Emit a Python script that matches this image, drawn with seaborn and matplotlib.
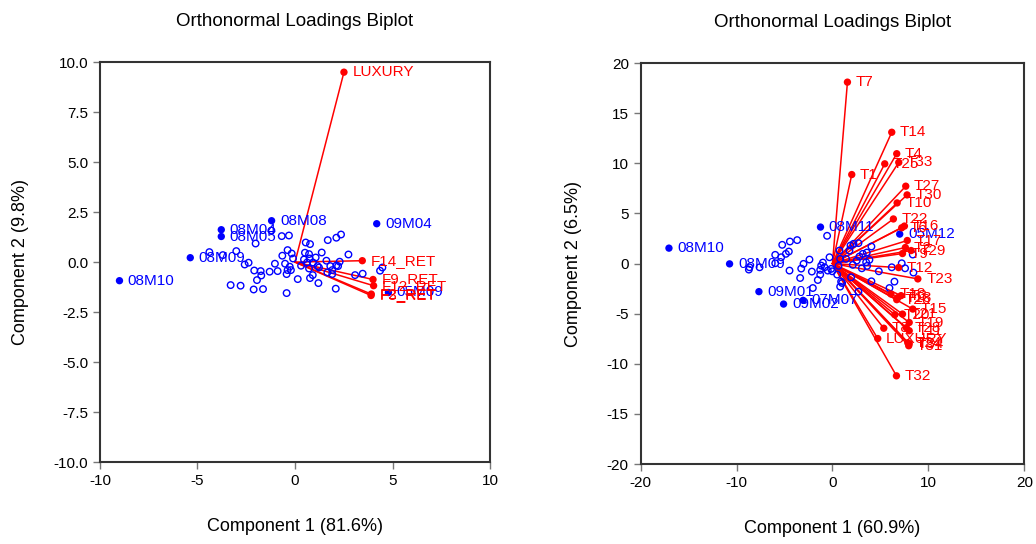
import numpy as np
import matplotlib
matplotlib.use("Agg")
import matplotlib.pyplot as plt
import seaborn as sns

# ---- left biplot (Component 1 81.6%, Component 2 9.8%) ----
left_obs_x = [-4.39, -3.01, -2.02, -2.58, -2.38, -2.09, -1.76, -1.73, -1.95, -3.30, -2.79, -2.12,
              -1.64, -1.30, -1.03, -0.89, -0.68, -0.31, -0.65, -0.51, -0.38, -0.17, -0.10, -0.27,
              -0.38, -0.21, -0.43, -0.43, 0.14, 0.31, 0.55, 0.77, 0.51, 0.72, 0.46, 0.62, 0.75,
              1.06, 0.92, 1.16, 1.23, 0.72, 0.91, 0.77, 1.20, 1.37, 1.61, 1.68, 2.12, 2.36, 1.81,
              1.91, 1.91, 1.66, 2.12, 2.29, 2.21, 2.09, 2.74, 3.08, 3.47, 4.36, 4.48, -1.21, -3.70]
left_obs_y = [0.50, 0.55, 0.93, -0.12, -0.03, -0.42, -0.45, -0.67, -0.90, -1.15, -1.18, -1.37,
              -1.35, -0.48, -0.08, -0.45, 1.30, 1.33, 0.32, -0.08, 0.60, 0.43, 0.18, -0.23,
              -0.40, -0.40, -0.60, -1.55, -0.85, -0.18, 0.98, 0.90, 0.47, 0.40, 0.13, -0.02, 0.18,
              0.23, -0.02, -0.20, -0.27, -0.32, -0.65, -0.80, -1.05, 0.48, 0.07, 1.10, 1.22, 1.38, -0.20,
              -0.40, -0.60, -0.52, -0.17, 0.02, -0.20, -1.33, 0.38, -0.65, -0.58, -0.43, -0.27, 1.58, 0.35]
left_lab_names = ["08M10", "08M09", "08M04", "08M05", "08M08", "09M04", "05M09"]
left_lab_x = [-9.0, -5.37, -3.78, -3.78, -1.20, 4.19, 4.79]
left_lab_y = [-0.93, 0.22, 1.62, 1.28, 2.07, 1.92, -1.52]
left_vec_names = ["LUXURY", "F14_RET", "F9_RET", "F12_RET", "F2_RET", "F3_RET"]
left_vec_x = [2.51, 3.45, 4.00, 4.03, 3.91, 3.90]
left_vec_y = [9.50, 0.07, -0.87, -1.18, -1.60, -1.67]

# ---- right biplot (Component 1 60.9%, Component 2 6.5%) ----
right_obs_x = [-5.24, -4.44, -3.68, -5.97, -5.35, -4.86, -4.55, -5.97, -8.72, -8.65, -7.60, -4.48,
               -3.26, -3.02, -2.40, -3.37, -2.15, -1.53, -1.28, -1.28, -1.00, -0.83, -1.18, -0.49,
               -0.31, -0.14, -0.03, 0.49, 0.63, 0.73, 0.80, 1.42, 1.77, 1.88, 2.19, 2.71, 2.12,
               2.53, 2.81, 3.16, 3.58, 3.51, 3.85, 3.06, 3.61, 4.06, 4.83, 6.18, 7.22, 7.57, 8.44,
               8.37, 1.94, 0.90, 0.80, -2.05, 2.71, 4.06, 5.94, 6.46, -0.56, 1.00]
right_obs_y = [1.87, 2.20, 2.34, 0.87, 0.63, 0.97, 1.20, 0.03, -0.60, -0.37, -0.37, -0.70,
               -0.50, -0.03, 0.40, -1.44, -0.80, -1.64, -1.10, -0.63, 0.10, -0.37, -0.20, -0.70,
               0.63, -0.53, -0.77, -1.10, -0.23, 1.30, 0.47, 0.47, 1.30, 1.80, 1.97, 2.04, -0.13,
               0.30, 0.70, 0.97, 1.10, 0.13, 0.37, -0.47, -0.23, 1.70, -0.77, -0.37, 0.03, -0.47, -0.90,
               0.90, -1.37, -1.80, -2.30, -2.44, -2.80, -1.77, -2.44, -1.80, 2.77, -1.94]
right_lab_names = ["08M10", "08M09", "09M01", "09M02", "07M07", "08M11", "05M12"]
right_lab_x = [-17.05, -10.73, -7.67, -5.10, -3.06, -1.25, 7.01]
right_lab_y = [1.54, -0.03, -2.80, -4.04, -3.67, 3.64, 2.94]
right_vec_names = ["T7", "T14", "T4", "T25", "T33", "T1", "T27", "T30", "T10", "T22", "T6", "T16",
                   "T17", "T2", "T29", "T9", "T12", "T23", "T18", "T13", "T3", "T26", "T21", "T15",
                   "T20", "T19", "T11", "T28", "T8", "LUXURY", "T24", "T34", "T31", "T32"]
right_vec_x = [1.56, 6.18, 6.70, 5.45, 6.91, 2.01, 7.64, 7.78, 6.74, 6.35, 7.22, 7.50,
               7.80, 7.60, 8.20, 7.30, 6.90, 8.90, 6.10, 6.80, 7.15, 6.70, 7.30, 8.37,
               6.50, 8.00, 8.00, 7.70, 5.35, 4.72, 7.85, 8.00, 7.95, 6.67]
right_vec_y = [18.10, 13.10, 10.96, 9.95, 10.09, 8.88, 7.72, 6.85, 6.05, 4.45, 3.57, 3.74,
               2.30, 1.60, 1.30, 1.00, -0.40, -1.53, -3.04, -3.40, -3.20, -3.60, -5.04, -4.54,
               -5.10, -5.88, -6.70, -6.40, -6.45, -7.48, -7.90, -8.00, -8.20, -11.20]

sns.set_style("ticks")
plt.rcParams['font.family'] = ['Liberation Sans', 'DejaVu Sans']
plt.rcParams['axes.unicode_minus'] = False
plt.rcParams['text.color'] = 'black'
plt.rcParams['axes.labelcolor'] = 'black'
plt.rcParams['xtick.labelcolor'] = 'black'
plt.rcParams['ytick.labelcolor'] = 'black'

fig = plt.figure(figsize=(10.36, 5.44), dpi=100)
ax1 = fig.add_axes([0.0965, 0.1507, 0.3765, 0.735])
ax2 = fig.add_axes([0.6184, 0.147, 0.3703, 0.737])


def biplot(ax, obs_x, obs_y, lab_names, lab_x, lab_y, vec_names, vec_x, vec_y):
    for vx, vy in zip(vec_x, vec_y):
        ax.plot([0, vx], [0, vy], color='red', lw=1.1, zorder=2)
    sns.scatterplot(x=obs_x, y=obs_y, ax=ax, facecolors='none', edgecolor='blue',
                    s=22, linewidth=1.0, zorder=3)
    sns.scatterplot(x=lab_x, y=lab_y, ax=ax, color='blue', edgecolor='none', s=28, zorder=3)
    sns.scatterplot(x=vec_x, y=vec_y, ax=ax, color='red', edgecolor='none', s=28, zorder=3)
    for n, px, py in zip(lab_names, lab_x, lab_y):
        ax.annotate(n, (px, py), xytext=(6, 0), textcoords='offset points',
                    va='center', ha='left', color='blue', fontsize=11)
    for n, px, py in zip(vec_names, vec_x, vec_y):
        ax.annotate(n, (px, py), xytext=(6, 0), textcoords='offset points',
                    va='center', ha='left', color='red', fontsize=11)
    ax.set_title('Orthonormal Loadings Biplot', fontsize=13.5, pad=26)
    for s in ax.spines.values():
        s.set_visible(True)
        s.set_color('#333333')
        s.set_linewidth(1.5)
    ax.tick_params(direction='out', length=5, width=1, color='#777777', labelsize=11)


biplot(ax1, left_obs_x, left_obs_y, left_lab_names, left_lab_x, left_lab_y,
       left_vec_names, left_vec_x, left_vec_y)
ax1.set_xlim(-10, 10)
ax1.set_ylim(-10, 10)
ax1.set_xticks([-10, -5, 0, 5, 10])
ax1.set_yticks(np.arange(-10, 10.1, 2.5))
ax1.set_yticklabels([f"{v:.1f}" for v in np.arange(-10, 10.1, 2.5)])
ax1.set_xlabel('Component 1 (81.6%)', fontsize=13, labelpad=22)
ax1.set_ylabel('Component 2 (9.8%)', fontsize=13, labelpad=18)

biplot(ax2, right_obs_x, right_obs_y, right_lab_names, right_lab_x, right_lab_y,
       right_vec_names, right_vec_x, right_vec_y)
ax2.set_xlim(-20, 20)
ax2.set_ylim(-20, 20)
ax2.set_xticks([-20, -10, 0, 10, 20])
ax2.set_yticks(np.arange(-20, 21, 5))
ax2.set_xlabel('Component 1 (60.9%)', fontsize=13, labelpad=22)
ax2.set_ylabel('Component 2 (6.5%)', fontsize=13, labelpad=18)

fig.savefig('out.png', dpi=100)
